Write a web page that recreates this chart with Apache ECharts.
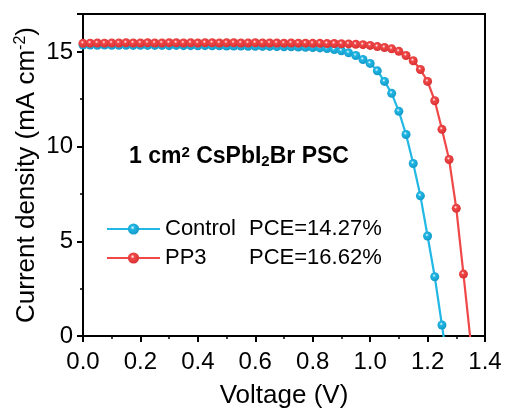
<!DOCTYPE html>
<html>
<head>
<meta charset="utf-8">
<script src="https://cdn.jsdelivr.net/npm/echarts@6/dist/echarts.min.js"></script>
<style>
html,body{margin:0;padding:0;background:#fff;}
#chart{width:505px;height:410px;}
</style>
</head>
<body>
<div id="chart"></div>
<script>
// Voltage (V)
var voltage = [0.000,0.025,0.050,0.075,0.100,0.125,0.150,0.175,0.200,0.225,
  0.250,0.275,0.300,0.325,0.350,0.375,0.400,0.425,0.450,0.475,
  0.500,0.525,0.550,0.575,0.600,0.625,0.650,0.675,0.700,0.725,
  0.750,0.775,0.800,0.825,0.850,0.875,0.900,0.925,0.950,0.975,
  1.000,1.025,1.050,1.075,1.100,1.125,1.150,1.175,1.200,1.225,
  1.250,1.275,1.300,1.325,1.350];
// Current density (mA cm^-2)
var controlJ = [15.36,15.36,15.35,15.36,15.35,15.35,15.35,15.34,15.35,15.34,
  15.34,15.34,15.33,15.34,15.33,15.33,15.32,15.33,15.32,15.32,
  15.31,15.31,15.31,15.30,15.30,15.29,15.29,15.28,15.27,15.27,
  15.26,15.24,15.23,15.21,15.18,15.12,15.06,14.95,14.81,14.60,
  14.39,14.00,13.44,12.81,11.86,10.64,9.11,7.40,5.28,3.13,
  0.58,-2.0];
var pp3J = [15.45,15.46,15.47,15.46,15.47,15.47,15.48,15.47,15.47,15.48,
  15.47,15.47,15.48,15.48,15.47,15.48,15.47,15.48,15.48,15.47,
  15.48,15.48,15.47,15.47,15.48,15.47,15.47,15.47,15.46,15.47,
  15.46,15.46,15.45,15.45,15.44,15.44,15.43,15.42,15.40,15.38,
  15.34,15.28,15.23,15.16,15.03,14.81,14.53,14.07,13.44,12.42,
  10.91,9.32,6.74,3.27,-0.3];
var seriesNames = ['Control','PP3'];
var pceLabels = ['PCE=14.27%','PCE=16.62%'];
var colors = ['#22B7E4','#F04848'];
var darkColors = ['#1399C8','#D83030'];

function pairs(ys){ return ys.map(function(y,i){ return [voltage[i], y]; }); }
function ball(i){
  return {type:'radial', x:0.42, y:0.38, r:0.62, colorStops:[
    {offset:0, color:'#ffffff'},
    {offset:0.28, color:colors[i]},
    {offset:1, color:darkColors[i]}]};
}
var font = '"Liberation Sans", Arial, sans-serif';
var chart = echarts.init(document.getElementById('chart'));
var option = {
  animation:false,
  grid:{left:83,right:20,top:14,bottom:74,show:true,borderColor:'#000',borderWidth:2,backgroundColor:'transparent',
    containLabel:false, outerBoundsMode:'none'},
  legend:{
    orient:'vertical', left:106, top:218, padding:0, itemWidth:53, itemHeight:14, itemGap:7,
    formatter:function(n){ var i=seriesNames.indexOf(n); return '{a|'+n+'}{b|'+pceLabels[i]+'}'; },
    textStyle:{fontFamily:font,fontSize:22,color:'#000',
      rich:{a:{width:84,fontFamily:font,fontSize:22,color:'#000',lineHeight:26},b:{fontFamily:font,fontSize:22,color:'#000',lineHeight:26}}}
  },
  xAxis:{
    type:'value', min:0, max:1.4, interval:0.2,
    name:'Voltage (V)', nameLocation:'middle', nameGap:47,
    nameTextStyle:{fontFamily:font,fontSize:26,color:'#000'},
    axisLine:{show:true,lineStyle:{color:'#000',width:2}},
    axisTick:{show:true,inside:false,length:6,lineStyle:{color:'#000',width:2}},
    minorTick:{show:true,splitNumber:2,length:3,lineStyle:{color:'#000',width:1.5}},
    axisLabel:{fontFamily:font,fontSize:24,color:'#000',margin:14,formatter:function(v){return v.toFixed(1);}},
    splitLine:{show:false}
  },
  yAxis:{
    type:'value', min:0, max:17, interval:5,
    name:'Current density (mA cm{sup|-2})', nameLocation:'middle', nameGap:43, nameMoveOverlap:false,
    nameTextStyle:{fontFamily:font,fontSize:26,color:'#000',
      rich:{sup:{fontFamily:font,fontSize:16,color:'#000',verticalAlign:'top',padding:[0,0,11,0]}}},
    axisLine:{show:true,lineStyle:{color:'#000',width:2}},
    axisTick:{show:true,inside:false,length:6,lineStyle:{color:'#000',width:2}},
    minorTick:{show:true,splitNumber:2,length:3,lineStyle:{color:'#000',width:1.5}},
    axisLabel:{fontFamily:font,fontSize:24,color:'#000',margin:10,showMaxLabel:false,
      formatter:function(v){return v%5===0?String(v):'';}},
    splitLine:{show:false}
  },
  graphic:[{
    type:'text', left:129, top:145,
    style:{
      text:'1 cm{sup|2} CsPbI{sub|2}Br PSC',
      font:'bold 23px '+font, fill:'#000',
      rich:{
        sup:{font:'bold 15px '+font, fill:'#000', verticalAlign:'top', padding:[0,0,9,0]},
        sub:{font:'bold 15px '+font, fill:'#000', verticalAlign:'bottom', padding:[9,0,0,0]}
      }
    }
  }],
  series:[0,1].map(function(i){
    return {
      name:seriesNames[i], type:'line', data:pairs(i===0?controlJ:pp3J),
      symbol:'circle', symbolSize:9, showSymbol:true, clip:true,
      lineStyle:{color:colors[i],width:2.2},
      itemStyle:{color:ball(i),borderWidth:0},
      z:2+i
    };
  })
};
chart.setOption(option);
</script>
</body>
</html>
